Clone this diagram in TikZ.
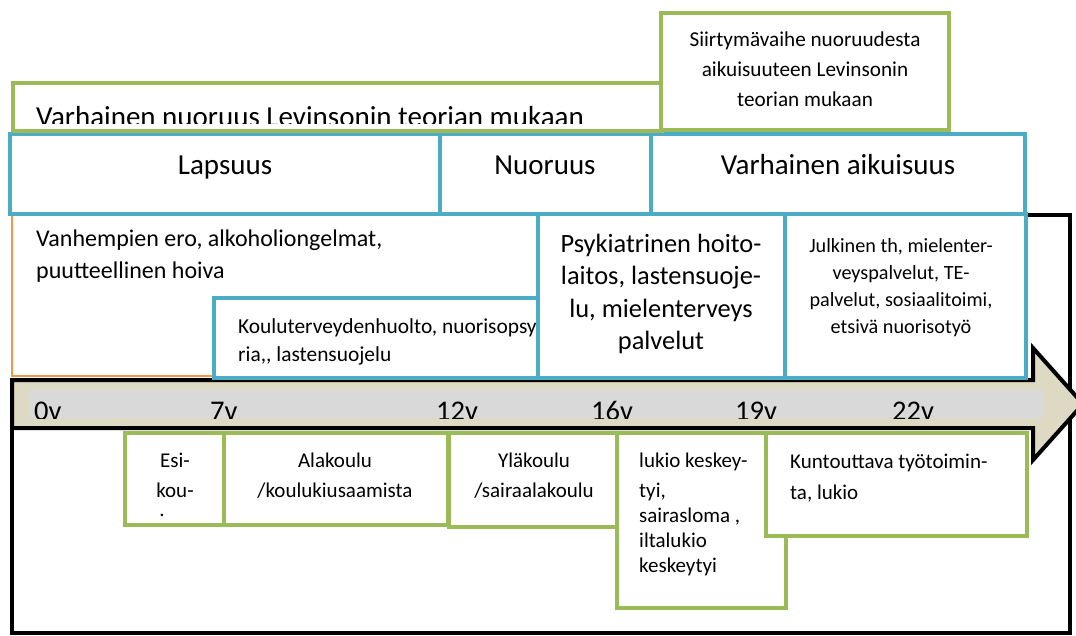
\documentclass[tikz,border=0pt]{standalone}
\usepackage{fontspec}
\setmainfont{Carlito}
\definecolor{lgreen}{HTML}{9BBB59}
\definecolor{lteal}{HTML}{4BACC6}
\definecolor{lorange}{HTML}{F79646}
\definecolor{lbeige}{HTML}{DDD9C3}
\definecolor{lgray}{HTML}{D9D9D9}
\newcommand{\fsz}[2]{\fontsize{#1}{#2}\selectfont}
\begin{document}
\begin{tikzpicture}[x=1pt,y=-1pt,
  gbox/.style={draw=lgreen,line width=4pt,fill=white},
  tbox/.style={draw=lteal,line width=4pt,fill=white},
  obox/.style={draw=lorange,line width=1.6pt,fill=white},
  blk/.style={draw=black,line width=4pt},
  txtc/.style={inner sep=0pt,anchor=base,align=center},
  txtl/.style={inner sep=0pt,anchor=base west,align=left},
  age/.style={inner sep=0pt,anchor=base west,font=\fsz{28.5}{34}}]
\clip (0,0) rectangle (1076,635);
\fill[white] (0,0) rectangle (1076,635);
% outer black frame
\path[blk] (1025,215) -- (1070,215) -- (1070,633) -- (12,633) -- (12,380);
% orange box
\path[obox] (12,214) rectangle (540,376);
\node[txtl,font=\fsz{24}{32.5}] (vanh) at (36,278.5) {Vanhempien ero, alkoholiongelmat,\\puutteellinen hoiva};
% timeline arrow
\path[blk,fill=lbeige,line join=miter] (12,380) -- (1033,380) -- (1033,348) -- (1083,404) -- (1033,460) -- (1033,428) -- (12,428) -- cycle;
\fill[lgray] (30,390) rectangle (1043,418);
\begin{scope}
\clip (30,390) rectangle (1043,418);
\node[age] (a0) at (34,420) {0v};
\node[age] (a7) at (210,420) {7v};
\node[age] (a12) at (436,420) {12v};
\node[age] (a16) at (591,420) {16v};
\node[age] (a19) at (735,420) {19v};
\node[age] (a22) at (892,420) {22v};
\end{scope}
% lower green boxes
\path[gbox] (125,433) rectangle (224,525);
\node[txtc,font=\fsz{21}{30}] (esi) at (175,497) {Esi-\\kou-};
\node[inner sep=0pt,anchor=base,font=\fsz{21}{30}] (esidot) at (162,516) {.};
\path[gbox] (224,433) rectangle (448,525);
\node[txtc,font=\fsz{21}{30}] (ala) at (335,497) {Alakoulu\\/koulukiusaamista};
\path[gbox] (449,433) rectangle (617,527);
\node[txtc,font=\fsz{21}{30}] (yla) at (534,497) {Yläkoulu\\/sairaalakoulu};
\path[gbox] (617,433) rectangle (786,608);
\node[txtl,font=\fsz{21}{25}] (lukio) at (639,572) {lukio keskey-\\[5pt]tyi,\\sairasloma ,\\iltalukio\\keskeytyi};
\path[gbox] (766,433) rectangle (1027,536);
\node[txtl,font=\fsz{21}{31}] (kunto) at (790,499) {Kuntouttava työtoimin-\\ta, lukio};
% middle teal boxes
\path[tbox] (214,298) rectangle (540,378);
\node[txtl,font=\fsz{21.4}{28}] (koulu) at (238,361) {Kouluterveydenhuolto, nuorisopsy\\ria,{},{} lastensuojelu};
\path[tbox] (538,214) rectangle (785,378);
\node[txtc,font=\fsz{26.4}{32.5}] (psyk) at (661,349.5) {Psykiatrinen hoito-\\laitos, lastensuoje-\\lu, mielenterveys\\palvelut};
\path[tbox] (785,214) rectangle (1026,378);
\node[txtc,font=\fsz{20.2}{27}] (julk) at (901,333) {Julkinen th, mielenter-\\veyspalvelut, TE-\\palvelut, sosiaalitoimi,\\etsivä nuorisotyö};
% top teal row
\path[tbox] (10,134) rectangle (440,214);
\node[txtc,font=\fsz{29}{35}] (laps) at (225,174) {Lapsuus};
\path[tbox] (440,134) rectangle (651,214);
\node[txtc,font=\fsz{29}{35}] (nuor) at (545,174) {Nuoruus};
\path[tbox] (651,134) rectangle (1025,214);
\node[txtc,font=\fsz{29}{35}] (varhaik) at (838,174) {Varhainen aikuisuus};
% top green boxes
\path[gbox] (13,83) rectangle (662,131);
\begin{scope}
\clip (15,85) rectangle (660,123);
\node[txtl,font=\fsz{29}{35}] (levin1) at (36,126) {Varhainen nuoruus Levinsonin teorian mukaan};
\end{scope}
\path[gbox] (661,13) rectangle (949,130);
\node[txtc,font=\fsz{21.2}{30}] (levin2) at (805,106) {Siirtymävaihe nuoruudesta\\aikuisuuteen Levinsonin\\teorian mukaan};
\end{tikzpicture}
\end{document}
